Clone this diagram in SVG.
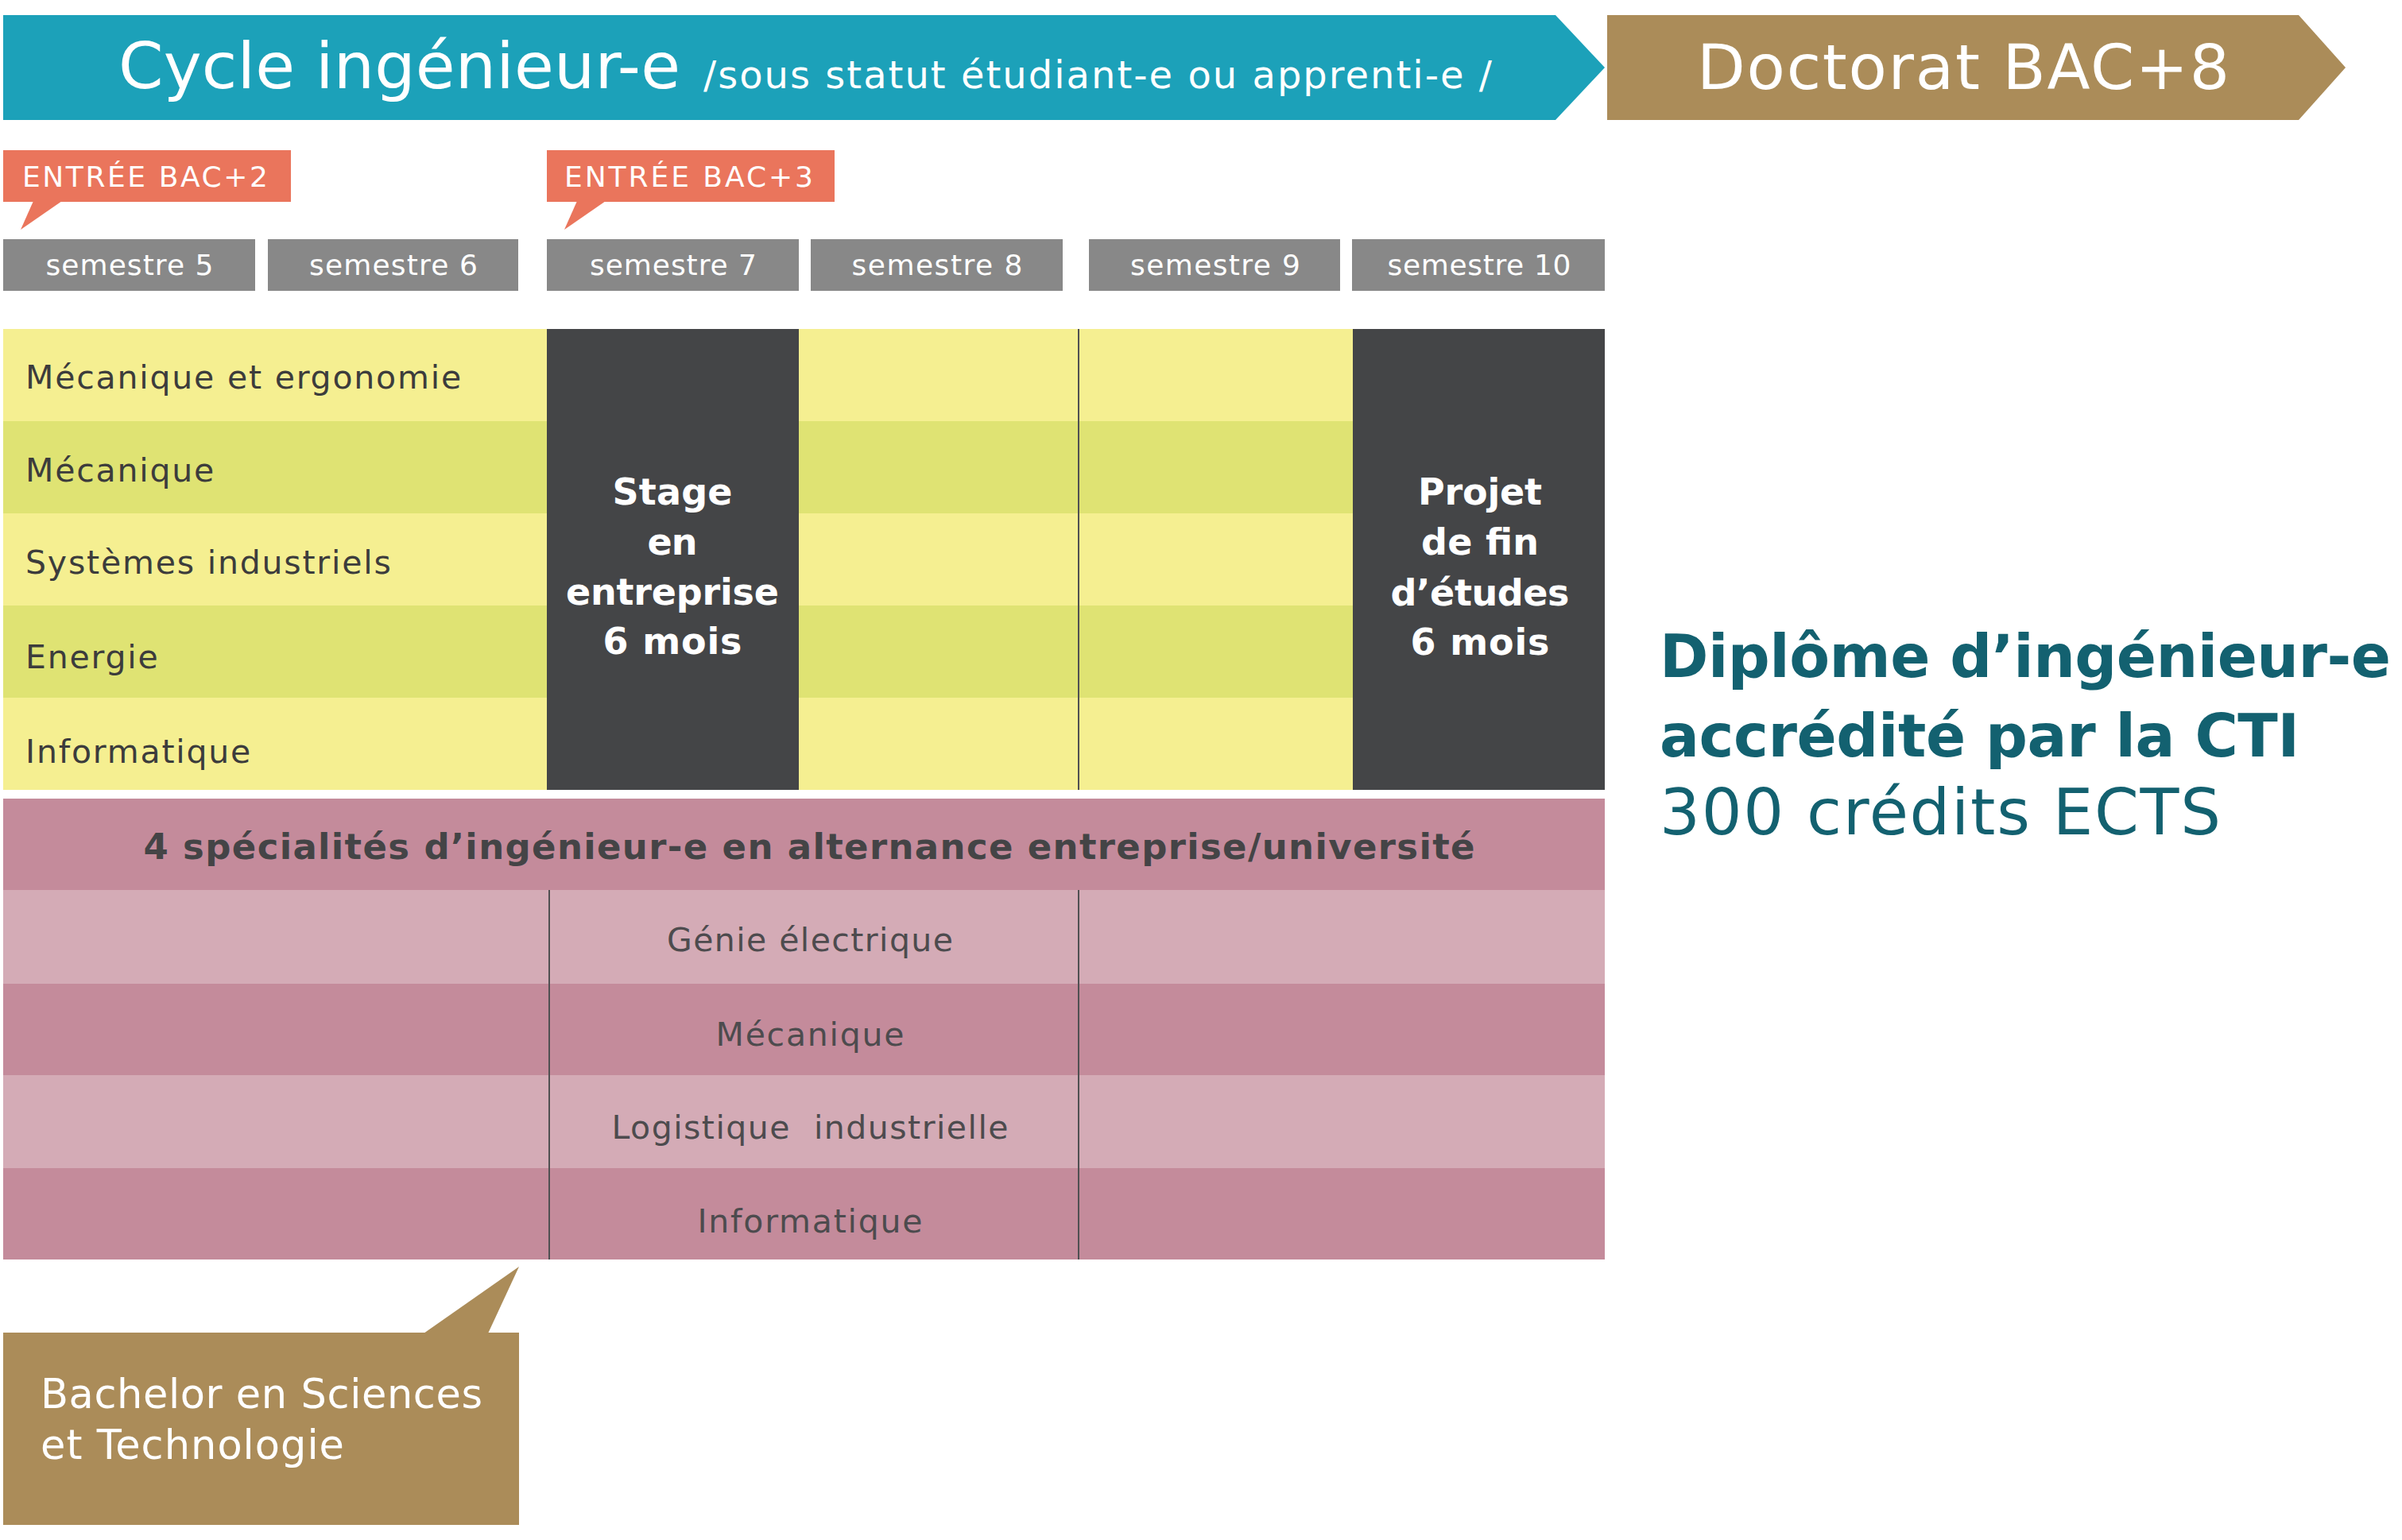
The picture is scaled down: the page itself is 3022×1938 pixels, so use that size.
<svg xmlns="http://www.w3.org/2000/svg" width="3022" height="1938" viewBox="0 0 3022 1938">
<style>
text{font-family:"DejaVu Sans","Liberation Sans",sans-serif}
.w{fill:#ffffff}
.sem{font-size:36px;fill:#ffffff;text-anchor:middle}
.row{font-size:41px;fill:#3c3c3c;letter-spacing:1.8px}
.prow{font-size:41px;fill:#4d4b4e;text-anchor:middle}
.dark{fill:#444547}
.bold44{font-size:46px;font-weight:bold;fill:#ffffff;text-anchor:middle}
.ly{fill:#f5ef91}
.dy{fill:#dfe373}
.lp{fill:#d4abb6}
.dp{fill:#c48b9b}
.grey{fill:#888888}
.salmon{fill:#ea755c}
.gold{fill:#ab8c59}
.teal{fill:#136170}
.div{stroke:#505052;stroke-width:2}
</style>

<g id="banner-cycle">
<polygon points="4,19 1957,19 2019,85 1957,151 4,151" fill="#1ca1b9"/>
<text x="149" y="111" font-size="81" class="w" textLength="707" lengthAdjust="spacing">Cycle ingénieur-e</text>
<text x="885" y="111" font-size="48" class="w" textLength="992" lengthAdjust="spacing">/sous statut étudiant-e ou apprenti-e /</text>
</g>

<g id="banner-doctorat">
<polygon points="2022,19 2892,19 2951,85 2892,151 2022,151" class="gold"/>
<text x="2135" y="112" font-size="79" class="w" textLength="670" lengthAdjust="spacing">Doctorat BAC+8</text>
</g>

<g id="entree-bac2">
<rect x="4" y="189" width="362" height="65" class="salmon"/>
<polygon points="42,253 78,253 26,289" class="salmon"/>
<text x="28" y="235" font-size="36" class="w" textLength="309" lengthAdjust="spacing">ENTRÉE BAC+2</text>
</g>

<g id="entree-bac3">
<rect x="688" y="189" width="362" height="65" class="salmon"/>
<polygon points="726,253 762,253 710,289" class="salmon"/>
<text x="710" y="235" font-size="36" class="w" textLength="313" lengthAdjust="spacing">ENTRÉE BAC+3</text>
</g>

<g id="semestres">
<g id="sem5"><rect x="4" y="301" width="317" height="65" class="grey"/><text x="163" y="346" class="sem" textLength="211" lengthAdjust="spacing">semestre 5</text></g>
<g id="sem6"><rect x="337" y="301" width="315" height="65" class="grey"/><text x="495" y="346" class="sem" textLength="212" lengthAdjust="spacing">semestre 6</text></g>
<g id="sem7"><rect x="688" y="301" width="317" height="65" class="grey"/><text x="847" y="346" class="sem" textLength="210" lengthAdjust="spacing">semestre 7</text></g>
<g id="sem8"><rect x="1020" y="301" width="317" height="65" class="grey"/><text x="1179" y="346" class="sem" textLength="215" lengthAdjust="spacing">semestre 8</text></g>
<g id="sem9"><rect x="1370" y="301" width="316" height="65" class="grey"/><text x="1529" y="346" class="sem" textLength="214" lengthAdjust="spacing">semestre 9</text></g>
<g id="sem10"><rect x="1701" y="301" width="318" height="65" class="grey"/><text x="1861" y="346" class="sem" textLength="231" lengthAdjust="spacing">semestre 10</text></g>
</g>

<g id="tronc-etudiant">
<rect x="4" y="414" width="2015" height="116" class="ly"/>
<rect x="4" y="530" width="2015" height="116" class="dy"/>
<rect x="4" y="646" width="2015" height="116" class="ly"/>
<rect x="4" y="762" width="2015" height="116" class="dy"/>
<rect x="4" y="878" width="2015" height="116" class="ly"/>
<line x1="1357" y1="414" x2="1357" y2="994" class="div"/>
<text x="32" y="489" class="row">Mécanique et ergonomie</text>
<text x="32" y="606" class="row">Mécanique</text>
<text x="32" y="722" class="row">Systèmes industriels</text>
<text x="32" y="841" class="row">Energie</text>
<text x="32" y="960" class="row">Informatique</text>
</g>

<g id="stage">
<rect x="688" y="414" width="317" height="580" class="dark"/>
<text x="846" y="635" class="bold44" textLength="151" lengthAdjust="spacing">Stage</text>
<text x="846" y="698" class="bold44" textLength="63" lengthAdjust="spacing">en</text>
<text x="846" y="761" class="bold44" textLength="268" lengthAdjust="spacing">entreprise</text>
<text x="846" y="823" class="bold44" textLength="175" lengthAdjust="spacing">6 mois</text>
</g>

<g id="projet">
<rect x="1702" y="414" width="317" height="580" class="dark"/>
<text x="1862" y="635" class="bold44" textLength="156" lengthAdjust="spacing">Projet</text>
<text x="1862" y="698" class="bold44" textLength="148" lengthAdjust="spacing">de fin</text>
<text x="1862" y="762" class="bold44" textLength="225" lengthAdjust="spacing">d’études</text>
<text x="1862" y="824" class="bold44" textLength="175" lengthAdjust="spacing">6 mois</text>
</g>

<g id="alternance">
<rect x="4" y="1005" width="2015" height="115" class="dp"/>
<rect x="4" y="1120" width="2015" height="118" class="lp"/>
<rect x="4" y="1238" width="2015" height="115" class="dp"/>
<rect x="4" y="1353" width="2015" height="117" class="lp"/>
<rect x="4" y="1470" width="2015" height="115" class="dp"/>
<line x1="691" y1="1120" x2="691" y2="1585" class="div"/>
<line x1="1357" y1="1120" x2="1357" y2="1585" class="div"/>
<text x="1018" y="1081" font-size="45" font-weight="bold" fill="#444446" text-anchor="middle" textLength="1675" lengthAdjust="spacing">4 spécialités d’ingénieur-e en alternance entreprise/université</text>
<text x="1019" y="1197" class="prow" textLength="360" lengthAdjust="spacing">Génie électrique</text>
<text x="1019" y="1316" class="prow" textLength="237" lengthAdjust="spacing">Mécanique</text>
<text x="1019" y="1433" class="prow" textLength="499" lengthAdjust="spacing">Logistique&#160; industrielle</text>
<text x="1019" y="1551" class="prow" textLength="283" lengthAdjust="spacing">Informatique</text>
</g>

<g id="bachelor">
<rect x="4" y="1677" width="649" height="242" class="gold"/>
<polygon points="533,1678 614,1678 653,1594" class="gold"/>
<text x="51" y="1772" font-size="51" class="w" textLength="556" lengthAdjust="spacing">Bachelor en Sciences</text>
<text x="51" y="1836" font-size="51" class="w" textLength="382" lengthAdjust="spacing">et Technologie</text>
</g>

<g id="diplome">
<text x="2088" y="852" font-size="74" font-weight="bold" class="teal" textLength="920" lengthAdjust="spacing">Diplôme d’ingénieur-e</text>
<text x="2088" y="952" font-size="74" font-weight="bold" class="teal" textLength="805" lengthAdjust="spacing">accrédité par la CTI</text>
<text x="2088" y="1050" font-size="80" class="teal" textLength="706" lengthAdjust="spacing">300 crédits ECTS</text>
</g>

<g id="connectors"></g>
</svg>
